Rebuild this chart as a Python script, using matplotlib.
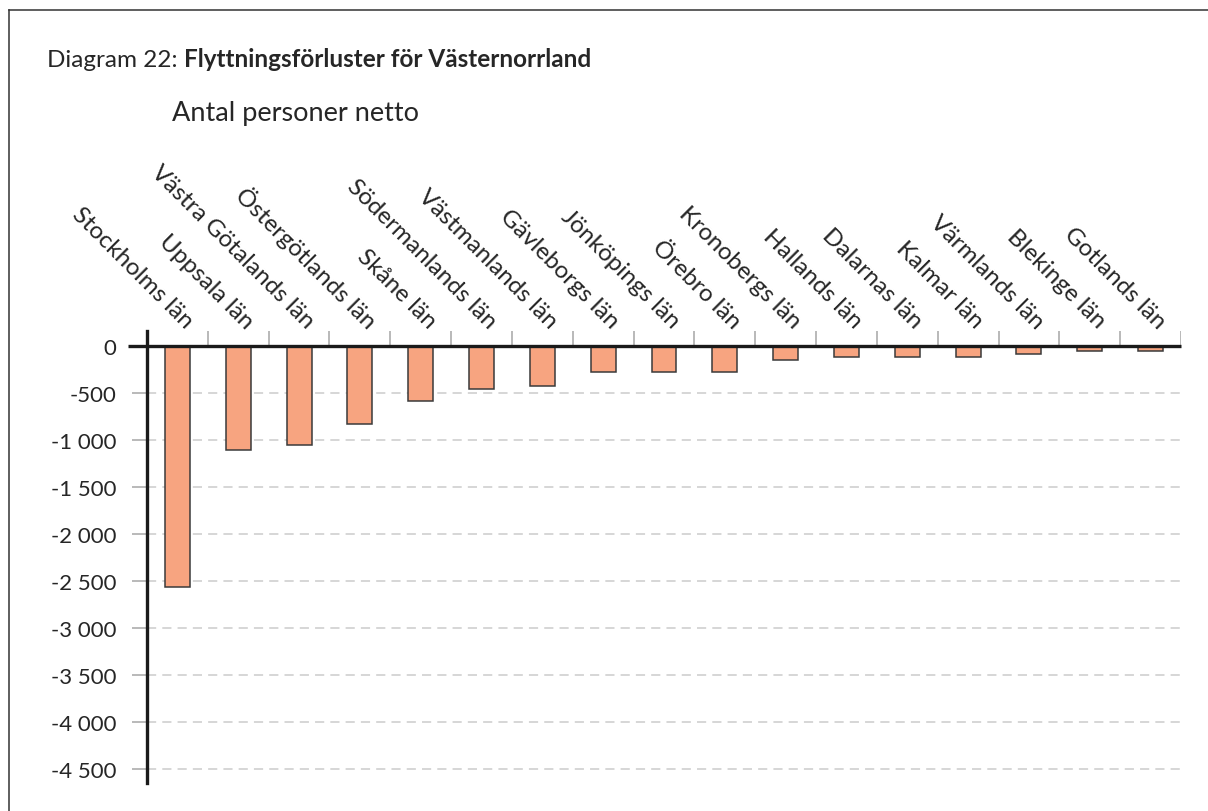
import matplotlib
matplotlib.use('Agg')
from matplotlib import pyplot as plt
from matplotlib import transforms
from matplotlib.lines import Line2D
import numpy as np

# data
lan = ['Stockholms län', 'Uppsala län', 'Västra Götalands län', 'Östergötlands län',
       'Skåne län', 'Södermanlands län', 'Västmanlands län', 'Gävleborgs län',
       'Jönköpings län', 'Örebro län', 'Kronobergs län', 'Hallands län',
       'Dalarnas län', 'Kalmar län', 'Värmlands län', 'Blekinge län', 'Gotlands län']
netto = [-2565, -1110, -1050, -833, -582, -460, -428, -272,
         -272, -272, -150, -120, -120, -120, -90, -55, -55]
yticks = [0, -500, -1000, -1500, -2000, -2500, -3000, -3500, -4000, -4500]
ytick_labels = ['0', '-500', '-1 000', '-1 500', '-2 000', '-2 500',
                '-3 000', '-3 500', '-4 000', '-4 500']

plt.rcParams['font.family'] = ['Lato', 'DejaVu Sans']
txt_color = '#262626'

W, H = 1208, 812
fig = plt.figure(figsize=(W / 100, H / 100), dpi=100)

# frame: only left and top edges show in the crop
fig.lines.append(Line2D([9 / W, 9 / W], [0, 1 - 11 / H], transform=fig.transFigure,
                        color='#333333', linewidth=1.1))
fig.lines.append(Line2D([9 / W, 1], [1 - 11 / H, 1 - 11 / H], transform=fig.transFigure,
                        color='#333333', linewidth=1.1))

ax = fig.add_axes([147 / W, (H - 784) / H, (1181 - 147) / W, (784 - 332) / H])
x = np.arange(len(lan))
ax.bar(x, netto, width=0.41, color='#F7A480', edgecolor='#3a3a3a', linewidth=1.1, zorder=3)

ax.set_xlim(-0.5, len(lan) - 0.5)
ax.set_ylim(-4650, 160)

# grid
ax.set_yticks(yticks)
ax.set_yticklabels(ytick_labels, fontsize=16, color=txt_color)
ax.tick_params(axis='y', length=11, width=1.1, color='#a6a6a6', pad=11)
ax.yaxis.grid(True, color='#cccccc', linestyle=(0, (6, 4)), linewidth=1.1, zorder=0)
ax.set_xticks([])

for s in ['top', 'right', 'bottom']:
    ax.spines[s].set_visible(False)
ax.spines['left'].set_linewidth(2.4)
ax.spines['left'].set_color('#1a1a1a')
ax.spines['left'].set_zorder(5)

# zero line
trans = transforms.blended_transform_factory(ax.transAxes, ax.transData)
ax.plot([-0.0185, 1], [0, 0], color='#1a1a1a', linewidth=2.4, transform=trans,
        clip_on=False, zorder=5, solid_capstyle='butt')

# category boundary ticks above zero
ax.vlines(np.arange(1, len(lan) + 1) - 0.5, 0, 160, color='#a6a6a6', linewidth=1.1, zorder=2)

# rotated category labels
off = transforms.ScaledTranslation(7 / 100, 17 / 100, fig.dpi_scale_trans)
for i, name in enumerate(lan):
    ax.text(i, 0, name, rotation=-45, rotation_mode='anchor', ha='right', va='baseline',
            fontsize=17.5, color=txt_color, transform=ax.transData + off)

# titles
t1 = fig.text(47 / W, 1 - 67 / H, 'Diagram 22: ', fontsize=17.5, color=txt_color)
r = fig.canvas.get_renderer()
bb = t1.get_window_extent(r)
fig.text(bb.x1 / W, 1 - 67 / H, 'Flyttningsförluster för Västernorrland',
         fontsize=17.5, fontweight='bold', color=txt_color)
fig.text(172 / W, 1 - 121 / H, 'Antal personer netto', fontsize=19.5, color=txt_color)

fig.savefig('out.png', dpi=100)
